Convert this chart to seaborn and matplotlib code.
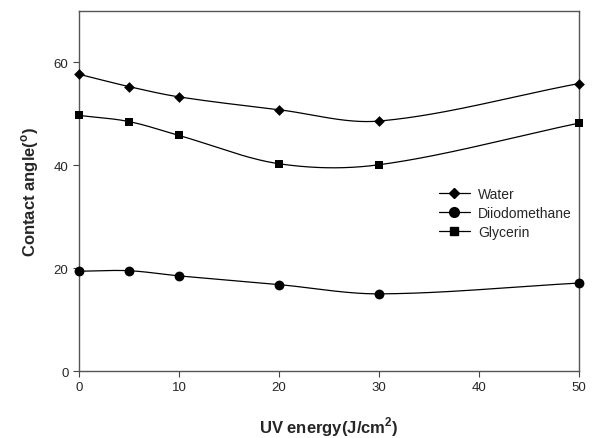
import numpy as np
import pandas as pd
import matplotlib
matplotlib.use("Agg")
import matplotlib.pyplot as plt
import seaborn as sns
from matplotlib.lines import Line2D

uv_energy = [0, 5, 10, 20, 30, 50]
water = [57.7, 55.3, 53.3, 50.8, 48.6, 55.9]
diiodomethane = [19.4, 19.5, 18.5, 16.8, 15.0, 17.1]
glycerin = [49.7, 48.5, 45.8, 40.3, 40.1, 48.2]
series_names = ["Water", "Diiodomethane", "Glycerin"]
x_ticks = [0, 10, 20, 30, 40, 50]
y_ticks = [0, 20, 40, 60]

sns.set_theme(style="ticks")
plt.rcParams["font.family"] = ["Liberation Sans", "DejaVu Sans"]
plt.rcParams["mathtext.fontset"] = "custom"
plt.rcParams["mathtext.rm"] = "Liberation Sans"
plt.rcParams["mathtext.bf"] = "Liberation Sans:bold"


def hermite_smooth(x, y, xs):
    x = np.asarray(x, float); y = np.asarray(y, float)
    n = len(x)
    m = np.zeros(n)
    m[0] = (y[1] - y[0]) / (x[1] - x[0])
    m[-1] = (y[-1] - y[-2]) / (x[-1] - x[-2])
    for i in range(1, n - 1):
        m[i] = (y[i + 1] - y[i - 1]) / (x[i + 1] - x[i - 1])
    idx = np.clip(np.searchsorted(x, xs) - 1, 0, n - 2)
    h = x[idx + 1] - x[idx]
    t = (xs - x[idx]) / h
    h00 = 2 * t**3 - 3 * t**2 + 1
    h10 = t**3 - 2 * t**2 + t
    h01 = -2 * t**3 + 3 * t**2
    h11 = t**3 - t**2
    return h00 * y[idx] + h10 * h * m[idx] + h01 * y[idx + 1] + h11 * h * m[idx + 1]


fig = plt.figure(figsize=(5.92, 4.39), dpi=100)
ax = fig.add_axes([0.1334, 0.1526, 0.8446, 0.8201])

markers = {"Water": "D", "Diiodomethane": "o", "Glycerin": "s"}
sizes = {"Water": 30, "Diiodomethane": 50, "Glycerin": 33}
data = {"Water": water, "Diiodomethane": diiodomethane, "Glycerin": glycerin}

xs = np.linspace(0, 50, 400)
for name in series_names:
    curve = pd.DataFrame({"x": xs, "y": hermite_smooth(uv_energy, data[name], xs)})
    sns.lineplot(data=curve, x="x", y="y", ax=ax, color="black", lw=0.9)
    pts = pd.DataFrame({"x": uv_energy, "y": data[name]})
    sns.scatterplot(data=pts, x="x", y="y", ax=ax, marker=markers[name],
                    s=sizes[name], color="black", edgecolor="black", linewidth=0,
                    zorder=5, clip_on=False)

ax.set_xlim(0, 50)
ax.set_ylim(0, 70)
ax.set_xticks(x_ticks)
ax.set_yticks(y_ticks)
ax.tick_params(axis="both", direction="out", length=4, width=0.8, color="#444444",
               labelsize=9.5, pad=3.5)
for s in ax.spines.values():
    s.set_color("#555555")
    s.set_linewidth(1.0)

ax.set_xlabel("UV energy(J/cm$^{\\mathbf{2}}$)", fontsize=12, fontweight="bold", labelpad=15)
ax.set_ylabel("Contact angle($^{\\mathbf{o}}$)", fontsize=12, fontweight="bold", labelpad=9)

msz = {"Water": 5.5, "Diiodomethane": 7, "Glycerin": 5.8}
handles = [Line2D([0], [0], color="black", lw=0.9, marker=markers[n],
                  markersize=msz[n]) for n in series_names]
ax.legend(handles, series_names, loc="upper left", bbox_to_anchor=(0.695, 0.546),
          frameon=False, fontsize=10, handlelength=2.2, handletextpad=0.6,
          labelspacing=0.35)

fig.savefig("out.png", dpi=100)
